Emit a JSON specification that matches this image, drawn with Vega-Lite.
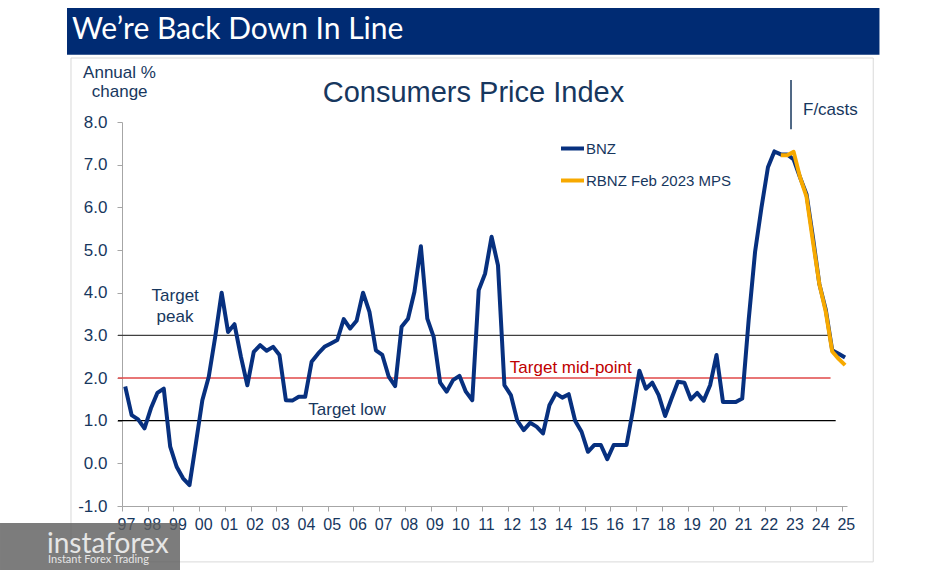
{
  "$schema": "https://vega.github.io/schema/vega-lite/v6.json",
  "width": 725,
  "height": 384,
  "autosize": {"type": "none"},
  "padding": {"left": 122, "top": 122, "right": 92, "bottom": 64},
  "background": "white",
  "config": {
    "view": {"stroke": null},
    "font": "Liberation Sans",
    "axisX": {"domainColor": "#a6a6a6", "tickColor": "#a6a6a6", "tickSize": 5, "labelFontSize": 16, "labelColor": "#17375e", "labelPadding": 5, "labelOffset": 4, "grid": false, "labelFont": "Liberation Sans"},
    "axisY": {"domainColor": "#a6a6a6", "tickColor": "#a6a6a6", "tickSize": 5, "labelFontSize": 17, "labelColor": "#17375e", "labelPadding": 10, "grid": false, "labelFont": "Liberation Sans"},
    "legend": {"orient": "none", "legendX": 437, "legendY": 13, "symbolType": "stroke", "symbolStrokeWidth": 4, "symbolSize": 529, "labelFontSize": 15, "labelFont": "Liberation Sans", "labelColor": "#17375e", "rowPadding": 10, "labelOffset": 0, "padding": 0, "title": null}
  },
  "datasets": {
    "bnz": [
      {"year": 1997.125, "pct": 1.8}, {"year": 1997.375, "pct": 1.13}, {"year": 1997.625, "pct": 1.03}, {"year": 1997.875, "pct": 0.82},
      {"year": 1998.125, "pct": 1.29}, {"year": 1998.375, "pct": 1.65}, {"year": 1998.625, "pct": 1.75}, {"year": 1998.875, "pct": 0.39},
      {"year": 1999.125, "pct": -0.08}, {"year": 1999.375, "pct": -0.35}, {"year": 1999.625, "pct": -0.51}, {"year": 1999.875, "pct": 0.47},
      {"year": 2000.125, "pct": 1.48}, {"year": 2000.375, "pct": 2.03}, {"year": 2000.625, "pct": 2.96}, {"year": 2000.875, "pct": 4.0},
      {"year": 2001.125, "pct": 3.08}, {"year": 2001.375, "pct": 3.26}, {"year": 2001.625, "pct": 2.5}, {"year": 2001.875, "pct": 1.83},
      {"year": 2002.125, "pct": 2.61}, {"year": 2002.375, "pct": 2.77}, {"year": 2002.625, "pct": 2.64}, {"year": 2002.875, "pct": 2.73},
      {"year": 2003.125, "pct": 2.54}, {"year": 2003.375, "pct": 1.48}, {"year": 2003.625, "pct": 1.47}, {"year": 2003.875, "pct": 1.56},
      {"year": 2004.125, "pct": 1.56}, {"year": 2004.375, "pct": 2.38}, {"year": 2004.625, "pct": 2.57}, {"year": 2004.875, "pct": 2.73},
      {"year": 2005.125, "pct": 2.81}, {"year": 2005.375, "pct": 2.89}, {"year": 2005.625, "pct": 3.38}, {"year": 2005.875, "pct": 3.16},
      {"year": 2006.125, "pct": 3.34}, {"year": 2006.375, "pct": 4.0}, {"year": 2006.625, "pct": 3.55}, {"year": 2006.875, "pct": 2.65},
      {"year": 2007.125, "pct": 2.54}, {"year": 2007.375, "pct": 2.03}, {"year": 2007.625, "pct": 1.81}, {"year": 2007.875, "pct": 3.2},
      {"year": 2008.125, "pct": 3.39}, {"year": 2008.375, "pct": 4.02}, {"year": 2008.625, "pct": 5.09}, {"year": 2008.875, "pct": 3.39},
      {"year": 2009.125, "pct": 2.96}, {"year": 2009.375, "pct": 1.89}, {"year": 2009.625, "pct": 1.68}, {"year": 2009.875, "pct": 1.95},
      {"year": 2010.125, "pct": 2.05}, {"year": 2010.375, "pct": 1.68}, {"year": 2010.625, "pct": 1.48}, {"year": 2010.875, "pct": 4.06},
      {"year": 2011.125, "pct": 4.45}, {"year": 2011.375, "pct": 5.31}, {"year": 2011.625, "pct": 4.64}, {"year": 2011.875, "pct": 1.83},
      {"year": 2012.125, "pct": 1.6}, {"year": 2012.375, "pct": 1.0}, {"year": 2012.625, "pct": 0.78}, {"year": 2012.875, "pct": 0.95},
      {"year": 2013.125, "pct": 0.86}, {"year": 2013.375, "pct": 0.7}, {"year": 2013.625, "pct": 1.36}, {"year": 2013.875, "pct": 1.64},
      {"year": 2014.125, "pct": 1.54}, {"year": 2014.375, "pct": 1.62}, {"year": 2014.625, "pct": 1.0}, {"year": 2014.875, "pct": 0.74},
      {"year": 2015.125, "pct": 0.27}, {"year": 2015.375, "pct": 0.43}, {"year": 2015.625, "pct": 0.43}, {"year": 2015.875, "pct": 0.1},
      {"year": 2016.125, "pct": 0.43}, {"year": 2016.375, "pct": 0.43}, {"year": 2016.625, "pct": 0.43}, {"year": 2016.875, "pct": 1.25},
      {"year": 2017.125, "pct": 2.17}, {"year": 2017.375, "pct": 1.75}, {"year": 2017.625, "pct": 1.89}, {"year": 2017.875, "pct": 1.6},
      {"year": 2018.125, "pct": 1.11}, {"year": 2018.375, "pct": 1.52}, {"year": 2018.625, "pct": 1.91}, {"year": 2018.875, "pct": 1.89},
      {"year": 2019.125, "pct": 1.5}, {"year": 2019.375, "pct": 1.65}, {"year": 2019.625, "pct": 1.47}, {"year": 2019.875, "pct": 1.83},
      {"year": 2020.125, "pct": 2.54}, {"year": 2020.375, "pct": 1.44}, {"year": 2020.625, "pct": 1.44}, {"year": 2020.875, "pct": 1.44},
      {"year": 2021.125, "pct": 1.52}, {"year": 2021.375, "pct": 3.36}, {"year": 2021.625, "pct": 4.96}, {"year": 2021.875, "pct": 6.0},
      {"year": 2022.125, "pct": 6.94}, {"year": 2022.375, "pct": 7.31}, {"year": 2022.625, "pct": 7.24}, {"year": 2022.875, "pct": 7.24},
      {"year": 2023.125, "pct": 7.12}, {"year": 2023.375, "pct": 6.7}, {"year": 2023.625, "pct": 6.31}, {"year": 2023.875, "pct": 5.3},
      {"year": 2024.125, "pct": 4.2}, {"year": 2024.375, "pct": 3.6}, {"year": 2024.625, "pct": 2.65}, {"year": 2024.875, "pct": 2.57},
      {"year": 2025.125, "pct": 2.48}
    ],
    "rbnz": [
      {"year": 2022.625, "pct": 7.22}, {"year": 2022.875, "pct": 7.22},
      {"year": 2023.125, "pct": 7.3}, {"year": 2023.375, "pct": 6.7}, {"year": 2023.625, "pct": 6.25}, {"year": 2023.875, "pct": 5.2},
      {"year": 2024.125, "pct": 4.2}, {"year": 2024.375, "pct": 3.55}, {"year": 2024.625, "pct": 2.62}, {"year": 2024.875, "pct": 2.45},
      {"year": 2025.125, "pct": 2.3}
    ],
    "targets": [
      {"level": "peak", "pct": 3, "year": 1996.84, "year2": 2024.6},
      {"level": "mid", "pct": 2, "year": 1996.84, "year2": 2024.56},
      {"level": "low", "pct": 1, "year": 1996.84, "year2": 2024.76}
    ]
  },
  "encoding": {
    "x": {"field": "year", "type": "quantitative", "title": null,
      "scale": {"domain": [1997, 2025.2], "nice": false, "zero": false},
      "axis": {"values": [1997, 1998, 1999, 2000, 2001, 2002, 2003, 2004, 2005, 2006, 2007, 2008, 2009, 2010, 2011, 2012, 2013, 2014, 2015, 2016, 2017, 2018, 2019, 2020, 2021, 2022, 2023, 2024, 2025], "labelExpr": "substring(toString(datum.value), 2, 4)", "labelOverlap": false, "labelFlush": false, "labelBound": false}},
    "y": {"field": "pct", "type": "quantitative", "title": null,
      "scale": {"domain": [-1, 8], "nice": false, "zero": false},
      "axis": {"values": [-1, 0, 1, 2, 3, 4, 5, 6, 7, 8], "labelExpr": "replace(format(datum.value, '.1f'), '−', '-')", "labelOverlap": false, "labelBound": false}}
  },
  "layer": [
    {
      "data": {"values": [{"year": 1995.016, "year2": 2026.22, "pct": 9.5, "pct2": -2.31}]},
      "mark": {"type": "rect", "fillOpacity": 0, "stroke": "#d9d9d9", "strokeWidth": 1},
      "encoding": {"x2": {"field": "year2"}, "y2": {"field": "pct2"}}
    },
    {
      "data": {"values": [{"year": 1994.861, "year2": 2026.463, "pct": 10.672, "pct2": 9.577}]},
      "mark": {"type": "rect", "fill": "#002b73"},
      "encoding": {"x2": {"field": "year2"}, "y2": {"field": "pct2"}}
    },
    {
      "data": {"name": "targets"},
      "transform": [{"filter": "datum.level === 'peak'"}],
      "mark": {"type": "rule", "color": "#404040", "strokeWidth": 1.3},
      "encoding": {"x2": {"field": "year2"}}
    },
    {
      "data": {"name": "targets"},
      "transform": [{"filter": "datum.level === 'mid'"}],
      "mark": {"type": "rule", "color": "#e04848", "strokeWidth": 1.3},
      "encoding": {"x2": {"field": "year2"}}
    },
    {
      "data": {"name": "targets"},
      "transform": [{"filter": "datum.level === 'low'"}],
      "mark": {"type": "rule", "color": "#000000", "strokeWidth": 1.3},
      "encoding": {"x2": {"field": "year2"}}
    },
    {
      "data": {"name": "bnz"},
      "mark": {"type": "line", "strokeWidth": 4, "strokeJoin": "round"},
      "encoding": {
        "color": {"datum": "BNZ", "type": "nominal",
          "scale": {"domain": ["BNZ", "RBNZ Feb 2023 MPS"], "range": ["#07307f", "#f7a900"]}}
      }
    },
    {
      "data": {"name": "rbnz"},
      "mark": {"type": "line", "strokeWidth": 4, "strokeJoin": "round"},
      "encoding": {"color": {"datum": "RBNZ Feb 2023 MPS", "type": "nominal"}}
    },
    {
      "data": {"values": [{"year": 2023.022, "pct": 8.984, "pct2": 7.829}]},
      "mark": {"type": "rule", "color": "#17375e", "strokeWidth": 1.5},
      "encoding": {"y2": {"field": "pct2"}}
    },
    {
      "data": {"values": [{"text": "We’re Back Down In Line", "year": 1995.055, "pct": 9.938}]},
      "mark": {"type": "text", "align": "left", "baseline": "alphabetic", "font": "Lato", "fontSize": 30, "color": "white"},
      "encoding": {"text": {"field": "text"}}
    },
    {
      "data": {"values": [{"text": "Consumers Price Index", "year": 2010.67, "pct": 8.476}]},
      "mark": {"type": "text", "align": "center", "baseline": "alphabetic", "fontSize": 29, "color": "#17375e"},
      "encoding": {"text": {"field": "text"}}
    },
    {
      "data": {"values": [
        {"text": "Annual %", "year": 1996.903, "pct": 9.024},
        {"text": "change", "year": 1996.91, "pct": 8.579},
        {"text": "Target", "year": 1999.07, "pct": 3.812},
        {"text": "peak", "year": 1999.06, "pct": 3.32},
        {"text": "Target low", "year": 2005.752, "pct": 1.133}
      ]},
      "mark": {"type": "text", "align": "center", "baseline": "alphabetic", "fontSize": 17, "color": "#17375e"},
      "encoding": {"text": {"field": "text"}}
    },
    {
      "data": {"values": [{"text": "F/casts", "year": 2023.489, "pct": 8.164}]},
      "mark": {"type": "text", "align": "left", "baseline": "alphabetic", "fontSize": 17, "color": "#17375e"},
      "encoding": {"text": {"field": "text"}}
    },
    {
      "data": {"values": [{"text": "Target mid-point", "year": 2014.457, "pct": 2.11}]},
      "mark": {"type": "text", "align": "center", "baseline": "alphabetic", "fontSize": 17, "color": "#c00000"},
      "encoding": {"text": {"field": "text"}}
    },
    {
      "data": {"values": [{"year": 1992.255, "year2": 1999.256, "pct": -1.398, "pct2": -2.5}]},
      "mark": {"type": "rect", "fill": "#5f5f5f", "opacity": 0.82},
      "encoding": {"x2": {"field": "year2"}, "y2": {"field": "pct2"}}
    },
    {
      "data": {"values": [{"text": "instaforex", "year": 1994.083, "pct": -2.101}]},
      "mark": {"type": "text", "align": "left", "baseline": "alphabetic", "font": "Lato", "fontSize": 28, "color": "#e6e6e6"},
      "encoding": {"text": {"field": "text"}}
    },
    {
      "data": {"values": [{"text": "Instant Forex Trading", "year": 1994.122, "pct": -2.336}]},
      "mark": {"type": "text", "align": "left", "baseline": "alphabetic", "font": "Lato", "fontSize": 11, "color": "#e6e6e6"},
      "encoding": {"text": {"field": "text"}}
    }
  ]
}
